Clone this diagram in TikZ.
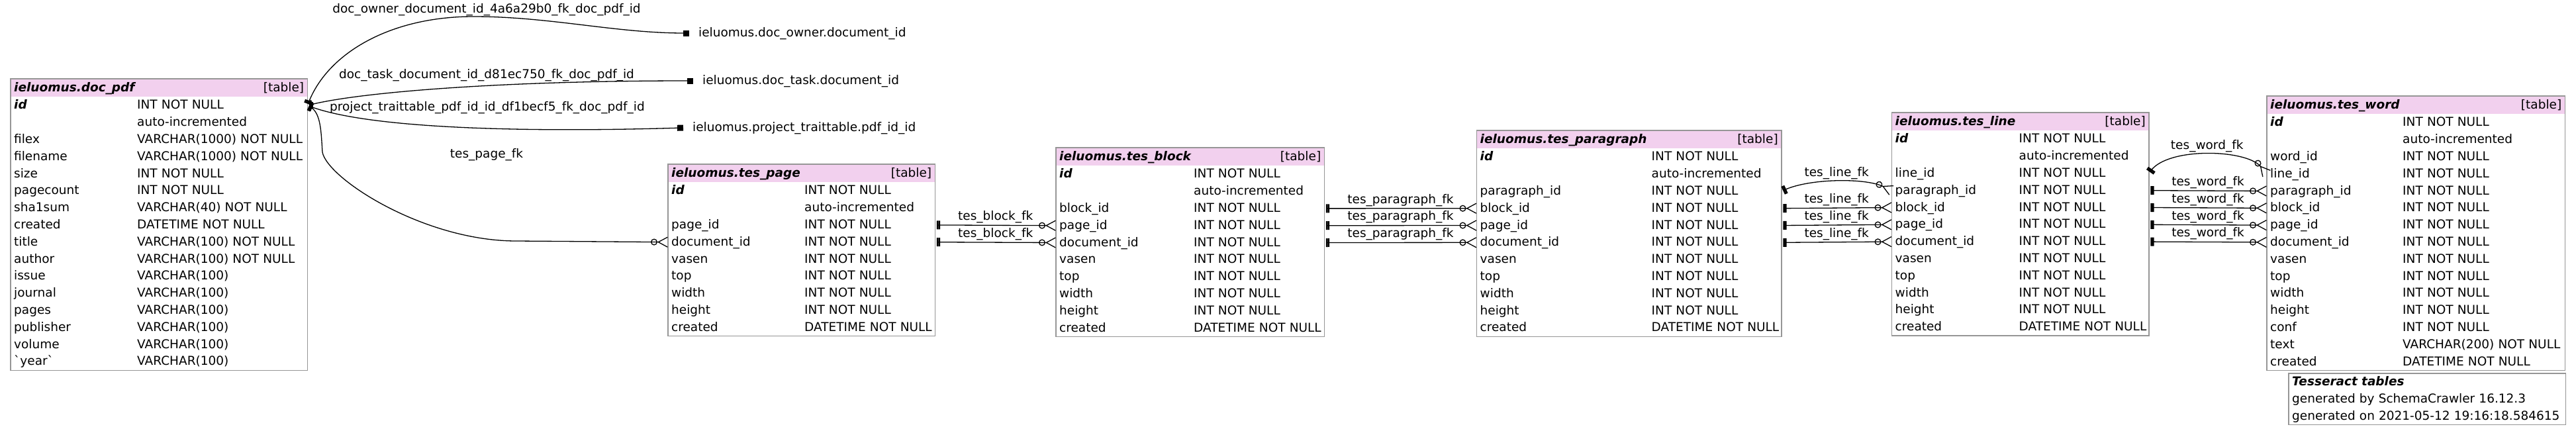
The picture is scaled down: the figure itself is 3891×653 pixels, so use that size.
\documentclass[tikz,border=0pt]{standalone}
\usepackage{fontspec}
\setmainfont{DejaVu Sans}
\usetikzlibrary{arrows.meta,positioning}

\definecolor{headpink}{RGB}{242,208,238}
\definecolor{framegray}{RGB}{150,150,150}

\begin{document}
\begin{tikzpicture}[x=1pt, y=1pt,
                every node/.style={font=\fontsize{18.5}{22}\selectfont}]
        \tikzset{
                basic/.style   = {rectangle, inner xsep=5pt, inner ysep=0pt, align=left,
                                 text height=14pt, text depth=3pt},
                head/.style    = {basic, fill=headpink, minimum height=27pt, anchor=north west},
                row/.style     = {basic, minimum height=25.4pt},
                tableframe/.style = {draw=framegray, line width=1.3pt},
                fk/.style      = {draw, line width=1.3pt,
                                 {Bar[width=13pt,line width=2.6pt,sep=2.5pt]Bar[width=13pt,line width=2.6pt]}-{Circle[open,length=10pt,width=10pt,sep=0pt]Straight Barb[reversed,length=14pt,width=15pt]}},
                extfk/.style   = {draw, line width=1.3pt,
                                 {Bar[width=13pt,line width=2.6pt,sep=2.5pt]Bar[width=13pt,line width=2.6pt]}-{Square[length=9pt,width=9pt]}},
                extref/.style  = {basic, inner xsep=14pt, anchor=west},
                fklabel/.style = {basic, inner sep=1pt}
        }
        \useasboundingbox (0,0) rectangle (3891,-653);

        % ieluomus.doc_pdf
        \def\typecol{186pt}
        \begin{scope}[every node/.append style={text width=438pt}]
                \node[head] (pdf-0) at (16,-119) {\textbf{\textit{ieluomus.doc\_pdf}}\hfill[table]};
                \foreach \col/\typ [count=\i, remember=\i as \j (initially 0)] in {
                                {\textbf{\textit{id}}}/INT NOT NULL, /auto-incremented,
                                filex/VARCHAR(1000) NOT NULL, filename/VARCHAR(1000) NOT NULL,
                                size/INT NOT NULL, pagecount/INT NOT NULL,
                                sha1sum/VARCHAR(40) NOT NULL, created/DATETIME NOT NULL,
                                title/VARCHAR(100) NOT NULL, author/VARCHAR(100) NOT NULL,
                                issue/VARCHAR(100), journal/VARCHAR(100), pages/VARCHAR(100),
                                publisher/VARCHAR(100), volume/VARCHAR(100),
                                {\textasciigrave year\textasciigrave}/VARCHAR(100)}
                        \node[row, below=0pt of pdf-\j] (pdf-\i) {\makebox[\typecol][l]{\col}\mbox{\typ}};
        \end{scope}
        \draw[tableframe] (pdf-0.north west) rectangle (pdf-16.south east);

        % ieluomus.tes_page
        \def\typecol{201pt}
        \begin{scope}[every node/.append style={text width=393pt}]
                \node[head] (page-0) at (1009,-248) {\textbf{\textit{ieluomus.tes\_page}}\hfill[table]};
                \foreach \col/\typ [count=\i, remember=\i as \j (initially 0)] in {
                                {\textbf{\textit{id}}}/INT NOT NULL, /auto-incremented,
                                page\_id/INT NOT NULL, document\_id/INT NOT NULL,
                                vasen/INT NOT NULL, top/INT NOT NULL, width/INT NOT NULL,
                                height/INT NOT NULL, created/DATETIME NOT NULL}
                        \node[row, below=0pt of page-\j] (page-\i) {\makebox[\typecol][l]{\col}\mbox{\typ}};
        \end{scope}
        \draw[tableframe] (page-0.north west) rectangle (page-9.south east);

        % ieluomus.tes_block
        \def\typecol{203pt}
        \begin{scope}[every node/.append style={text width=395pt}]
                \node[head] (block-0) at (1595,-223) {\textbf{\textit{ieluomus.tes\_block}}\hfill[table]};
                \foreach \col/\typ [count=\i, remember=\i as \j (initially 0)] in {
                                {\textbf{\textit{id}}}/INT NOT NULL, /auto-incremented,
                                block\_id/INT NOT NULL, page\_id/INT NOT NULL, document\_id/INT NOT NULL,
                                vasen/INT NOT NULL, top/INT NOT NULL, width/INT NOT NULL,
                                height/INT NOT NULL, created/DATETIME NOT NULL}
                        \node[row, below=0pt of block-\j] (block-\i) {\makebox[\typecol][l]{\col}\mbox{\typ}};
        \end{scope}
        \draw[tableframe] (block-0.north west) rectangle (block-10.south east);

        % ieluomus.tes_paragraph
        \def\typecol{259pt}
        \begin{scope}[every node/.append style={text width=450pt}]
                \node[head] (para-0) at (2230.5,-197) {\textbf{\textit{ieluomus.tes\_paragraph}}\hfill[table]};
                \foreach \col/\typ [count=\i, remember=\i as \j (initially 0)] in {
                                {\textbf{\textit{id}}}/INT NOT NULL, /auto-incremented,
                                paragraph\_id/INT NOT NULL, block\_id/INT NOT NULL,
                                page\_id/INT NOT NULL, document\_id/INT NOT NULL,
                                vasen/INT NOT NULL, top/INT NOT NULL, width/INT NOT NULL,
                                height/INT NOT NULL, created/DATETIME NOT NULL}
                        \node[row, below=0pt of para-\j] (para-\i) {\makebox[\typecol][l]{\col}\mbox{\typ}};
        \end{scope}
        \draw[tableframe] (para-0.north west) rectangle (para-11.south east);

        % ieluomus.tes_line
        \def\typecol{187pt}
        \begin{scope}[every node/.append style={text width=378pt}]
                \node[head] (line-0) at (2857.5,-170) {\textbf{\textit{ieluomus.tes\_line}}\hfill[table]};
                \foreach \col/\typ [count=\i, remember=\i as \j (initially 0)] in {
                                {\textbf{\textit{id}}}/INT NOT NULL, /auto-incremented,
                                line\_id/INT NOT NULL, paragraph\_id/INT NOT NULL,
                                block\_id/INT NOT NULL, page\_id/INT NOT NULL, document\_id/INT NOT NULL,
                                vasen/INT NOT NULL, top/INT NOT NULL, width/INT NOT NULL,
                                height/INT NOT NULL, created/DATETIME NOT NULL}
                        \node[row, below=0pt of line-\j] (line-\i) {\makebox[\typecol][l]{\col}\mbox{\typ}};
        \end{scope}
        \draw[tableframe] (line-0.north west) rectangle (line-12.south east);

        % ieluomus.tes_word
        \def\typecol{200pt}
        \begin{scope}[every node/.append style={text width=440pt}]
                \node[head] (word-0) at (3424,-145) {\textbf{\textit{ieluomus.tes\_word}}\hfill[table]};
                \foreach \col/\typ [count=\i, remember=\i as \j (initially 0)] in {
                                {\textbf{\textit{id}}}/INT NOT NULL, /auto-incremented,
                                word\_id/INT NOT NULL, line\_id/INT NOT NULL, paragraph\_id/INT NOT NULL,
                                block\_id/INT NOT NULL, page\_id/INT NOT NULL, document\_id/INT NOT NULL,
                                vasen/INT NOT NULL, top/INT NOT NULL, width/INT NOT NULL,
                                height/INT NOT NULL, conf/INT NOT NULL,
                                text/VARCHAR(200) NOT NULL, created/DATETIME NOT NULL}
                        \node[row, below=0pt of word-\j] (word-\i) {\makebox[\typecol][l]{\col}\mbox{\typ}};
        \end{scope}
        \draw[tableframe] (word-0.north west) rectangle (word-15.south east);

        % legend box
        \begin{scope}[every node/.append style={text width=408pt, minimum height=26pt}]
                \node[row, anchor=north west] (legend-1) at (3457,-564) {\textbf{\textit{Tesseract tables}}};
                \node[row, below=0pt of legend-1] (legend-2) {generated by SchemaCrawler 16.12.3};
                \node[row, below=0pt of legend-2] (legend-3) {generated on 2021-05-12 19:16:18.584615};
        \end{scope}
        \draw[tableframe] (legend-1.north west) rectangle (legend-3.south east);

        % referenced columns of tables that are not drawn
        \node[extref] (ownref) at (1041,-50) {ieluomus.doc\_owner.document\_id};
        \node[extref] (taskref) at (1047,-122) {ieluomus.doc\_task.document\_id};
        \node[extref] (traitref) at (1032,-193) {ieluomus.project\_traittable.pdf\_id\_id};

        % keys leaving doc_pdf
        \draw[extfk] (pdf-1.east) .. controls (495,-80) and (590,-25) .. (715,-25)
                .. controls (830,-25) and (930,-50) .. (ownref.west);
        \draw[extfk] (pdf-1.east) .. controls (540,-140) and (750,-122) .. (taskref.west);
        \draw[extfk] (pdf-1.east) .. controls (560,-195) and (800,-200) .. (traitref.west);
        \draw[fk] (pdf-1.east) .. controls (485,-170) and (485,-200) .. (487,-230)
                .. controls (495,-270) and (640,-364) .. (780,-364) -- (page-4.west);

        \node[fklabel] (ownfk) at (735,-14) {doc\_owner\_document\_id\_4a6a29b0\_fk\_doc\_pdf\_id};
        \node[fklabel] (taskfk) at (735,-113) {doc\_task\_document\_id\_d81ec750\_fk\_doc\_pdf\_id};
        \node[fklabel] (traitfk) at (736,-162) {project\_traittable\_pdf\_id\_id\_df1becf5\_fk\_doc\_pdf\_id};
        \node[fklabel] (pagefk) at (735,-233) {tes\_page\_fk};

        % keys between the tes tables
        \foreach \a/\b in {3/4, 4/5}
                \draw[fk] (page-\a.east) -- node[fklabel, above=3pt] (blockfk\a) {tes\_block\_fk} (block-\b.west);
        \foreach \a/\b in {3/4, 4/5, 5/6}
                \draw[fk] (block-\a.east) -- node[fklabel, above=3pt] (parafk\a) {tes\_paragraph\_fk} (para-\b.west);
        \draw[fk] (para-3.east) to[out=25, in=155, looseness=0.7]
                node[fklabel, above=3pt] (linefk3) {tes\_line\_fk} (line-4.west);
        \foreach \a/\b in {4/5, 5/6, 6/7}
                \draw[fk] (para-\a.east) -- node[fklabel, above=3pt] (linefk\a) {tes\_line\_fk} (line-\b.west);
        \draw[fk] (line-3.east) to[out=55, in=130, looseness=0.7]
                node[fklabel, above=3pt] (wordfk3) {tes\_word\_fk} (word-4.west);
        \foreach \a/\b in {4/5, 5/6, 6/7, 7/8}
                \draw[fk] (line-\a.east) -- node[fklabel, above=3pt] (wordfk\a) {tes\_word\_fk} (word-\b.west);

\end{tikzpicture}
\end{document}
